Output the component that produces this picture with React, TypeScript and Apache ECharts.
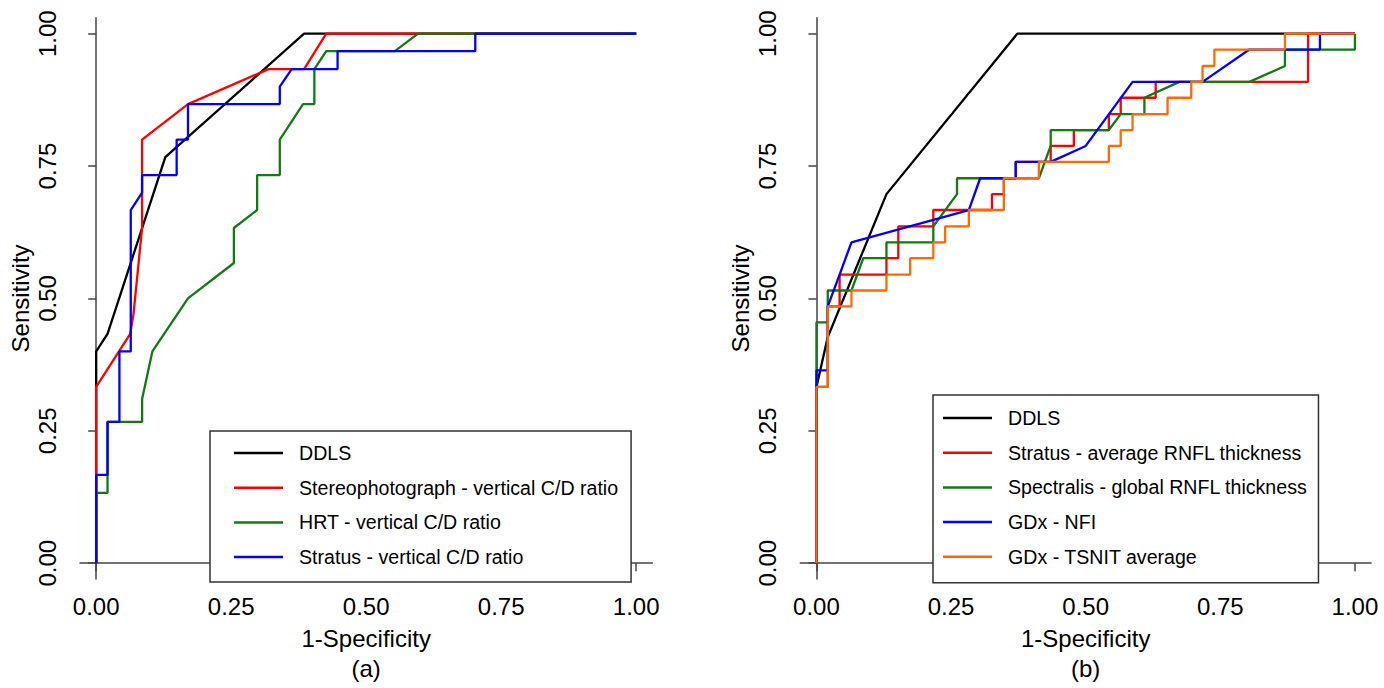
import React, { useEffect, useRef } from 'react';
import * as echarts from 'echarts';

const FONT = '"Liberation Sans", Arial, sans-serif';
const TICKS = [0, 0.25, 0.5, 0.75, 1];

// Panel (a)
const namesA = [
  'DDLS',
  'Stereophotograph - vertical C/D ratio',
  'HRT - vertical C/D ratio',
  'Stratus - vertical C/D ratio',
];
const colorsA = ['#000000', '#ff0000', '#117a11', '#0000ff'];
const ddlsA = [[0, 0], [0, 0.333], [0, 0.4], [0.021, 0.433], [0.128, 0.767], [0.385, 1], [1, 1]];
const stereoA = [[0, 0], [0, 0.333], [0.063, 0.433], [0.069, 0.47], [0.085, 0.633], [0.085, 0.8], [0.17, 0.867], [0.319, 0.933], [0.385, 0.933], [0.426, 1], [1, 1]];
const hrtA = [[0, 0], [0, 0.133], [0.021, 0.133], [0.021, 0.267], [0.085, 0.267], [0.085, 0.31], [0.104, 0.4], [0.17, 0.5], [0.255, 0.567], [0.255, 0.633], [0.298, 0.667], [0.298, 0.733], [0.34, 0.733], [0.34, 0.8], [0.383, 0.867], [0.404, 0.867], [0.404, 0.933], [0.426, 0.967], [0.553, 0.967], [0.596, 1], [1, 1]];
const stratusA = [[0, 0], [0, 0.167], [0.021, 0.167], [0.021, 0.267], [0.043, 0.267], [0.043, 0.4], [0.064, 0.4], [0.064, 0.667], [0.085, 0.7], [0.085, 0.733], [0.149, 0.733], [0.149, 0.8], [0.17, 0.8], [0.17, 0.867], [0.34, 0.867], [0.34, 0.9], [0.362, 0.933], [0.447, 0.933], [0.447, 0.967], [0.702, 0.967], [0.702, 1], [1, 1]];
const dataA = [ddlsA, stereoA, hrtA, stratusA];

// Panel (b)
const namesB = [
  'DDLS',
  'Stratus - average RNFL thickness',
  'Spectralis - global RNFL thickness',
  'GDx - NFI',
  'GDx - TSNIT average',
];
const colorsB = ['#000000', '#ff0000', '#117a11', '#0000ff', '#ff6a00'];
const ddlsB = [[0, 0], [0, 0.333], [0.021, 0.427], [0.13, 0.697], [0.373, 1], [1, 1]];
const stratusB = [[0, 0], [0, 0.333], [0.021, 0.333], [0.021, 0.485], [0.043, 0.485], [0.043, 0.545], [0.13, 0.545], [0.13, 0.576], [0.152, 0.576], [0.152, 0.636], [0.217, 0.636], [0.217, 0.667], [0.326, 0.667], [0.326, 0.697], [0.348, 0.697], [0.348, 0.727], [0.37, 0.727], [0.37, 0.758], [0.435, 0.758], [0.435, 0.788], [0.478, 0.788], [0.478, 0.818], [0.543, 0.818], [0.543, 0.848], [0.565, 0.848], [0.565, 0.879], [0.63, 0.879], [0.63, 0.909], [0.913, 0.909], [0.913, 1], [1, 1]];
const spectralisB = [[0, 0], [0, 0.455], [0.021, 0.455], [0.021, 0.515], [0.065, 0.515], [0.087, 0.576], [0.13, 0.576], [0.13, 0.606], [0.217, 0.606], [0.217, 0.636], [0.261, 0.697], [0.261, 0.727], [0.413, 0.727], [0.435, 0.788], [0.435, 0.818], [0.543, 0.818], [0.565, 0.848], [0.609, 0.848], [0.609, 0.879], [0.674, 0.909], [0.804, 0.909], [0.87, 0.939], [0.87, 0.97], [1, 0.97], [1, 1]];
const nfiB = [[0, 0], [0, 0.364], [0.021, 0.364], [0.021, 0.485], [0.043, 0.545], [0.065, 0.606], [0.283, 0.667], [0.304, 0.727], [0.37, 0.727], [0.37, 0.758], [0.435, 0.758], [0.5, 0.788], [0.587, 0.909], [0.717, 0.909], [0.804, 0.97], [0.935, 0.97], [0.935, 1], [1, 1]];
const tsnitB = [[0, 0], [0, 0.333], [0.021, 0.333], [0.021, 0.485], [0.065, 0.485], [0.065, 0.515], [0.13, 0.515], [0.13, 0.545], [0.174, 0.545], [0.174, 0.576], [0.217, 0.576], [0.217, 0.606], [0.239, 0.606], [0.239, 0.636], [0.283, 0.636], [0.283, 0.667], [0.348, 0.667], [0.348, 0.727], [0.413, 0.727], [0.413, 0.758], [0.543, 0.758], [0.543, 0.788], [0.565, 0.788], [0.565, 0.818], [0.587, 0.818], [0.587, 0.848], [0.652, 0.848], [0.652, 0.879], [0.696, 0.879], [0.696, 0.909], [0.717, 0.909], [0.717, 0.939], [0.739, 0.939], [0.739, 0.97], [0.87, 0.97], [0.87, 1], [1, 1]];
const dataB = [ddlsB, stratusB, spectralisB, nfiB, tsnitB];

const AXIS_COLOR = '#444';

function xAxis(gridIndex: number, name: string) {
  return {
    type: 'value',
    gridIndex,
    min: -0.03,
    max: 1.03,
    axisLine: { show: true, lineStyle: { color: AXIS_COLOR, width: 1.5 } },
    axisTick: { show: true, length: 8, customValues: TICKS, lineStyle: { color: AXIS_COLOR, width: 1.5 } },
    axisLabel: {
      customValues: TICKS,
      formatter: (v: number) => v.toFixed(2),
      fontSize: 24,
      color: '#000',
      margin: 15,
      fontFamily: FONT,
    },
    splitLine: { show: false },
    name,
    nameLocation: 'middle',
    nameGap: 41,
    nameTextStyle: { fontSize: 24, lineHeight: 30, color: '#000', fontFamily: FONT },
  };
}

function yAxis(gridIndex: number) {
  return {
    type: 'value',
    gridIndex,
    min: -0.03,
    max: 1.03,
    axisLine: { show: true, lineStyle: { color: AXIS_COLOR, width: 1.5 } },
    axisTick: { show: true, length: 8, customValues: TICKS, lineStyle: { color: AXIS_COLOR, width: 1.5 } },
    axisLabel: {
      customValues: TICKS,
      formatter: (v: number) => v.toFixed(2),
      fontSize: 24,
      color: '#000',
      margin: 21,
      rotate: 90,
      fontFamily: FONT,
    },
    splitLine: { show: false },
    name: 'Sensitivity',
    nameLocation: 'middle',
    nameRotate: 90,
    nameGap: 48,
    nameTextStyle: { fontSize: 24, color: '#000', fontFamily: FONT },
  };
}

function legend(left: number, top: number, data: string[], padding: number[]) {
  return {
    orient: 'vertical',
    left,
    top,
    data,
    icon: 'rect',
    itemWidth: 49,
    itemHeight: 2.5,
    itemGap: 14.7,
    padding,
    borderColor: '#333',
    borderWidth: 1.5,
    backgroundColor: '#fff',
    selectedMode: false,
    textStyle: { fontSize: 19.6, color: '#000', fontFamily: FONT, padding: [0, 0, 0, 11] },
  };
}

export default function App() {
  const ref = useRef<HTMLDivElement>(null);
  useEffect(() => {
    if (!ref.current) return;
    const chart = echarts.init(ref.current, undefined, { renderer: 'svg' });
    const series: any[] = [];
    dataA.forEach((d, i) => {
      series.push({
        type: 'line',
        name: namesA[i],
        xAxisIndex: 0,
        yAxisIndex: 0,
        data: d,
        symbol: 'none',
        showSymbol: false,
        color: colorsA[i],
        lineStyle: { color: colorsA[i], width: 2.3 },
        z: 2 + i,
      });
    });
    dataB.forEach((d, i) => {
      series.push({
        type: 'line',
        name: namesB[i],
        xAxisIndex: 1,
        yAxisIndex: 1,
        data: d,
        symbol: 'none',
        showSymbol: false,
        color: colorsB[i],
        lineStyle: { color: colorsB[i], width: 2.3 },
        z: 2 + i,
      });
    });
    chart.setOption({
      animation: false,
      backgroundColor: '#fff',
      textStyle: { fontFamily: FONT },
      grid: [
        { left: 80, top: 17.8, width: 572.4, height: 572.4 },
        { left: 800.3, top: 17.8, width: 570.8, height: 572.4 },
      ],
      xAxis: [xAxis(0, '1-Specificity\n(a)'), xAxis(1, '1-Specificity\n(b)')],
      yAxis: [yAxis(0), yAxis(1)],
      legend: [
        legend(210, 431, namesA, [12, 13, 15, 24]),
        legend(933, 395, namesB, [13, 11, 16, 10]),
      ],
      series,
    });
    return () => chart.dispose();
  }, []);
  return (
    <div
      ref={ref}
      style={{ position: 'fixed', left: 0, top: 0, width: 1384, height: 688, background: '#fff' }}
    />
  );
}
